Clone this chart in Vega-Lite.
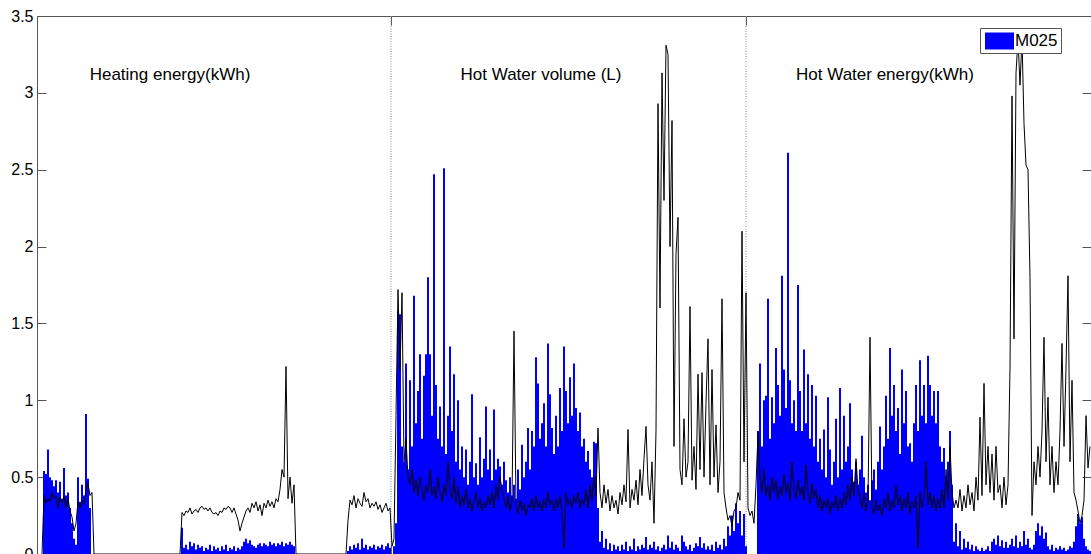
{
"$schema": "https://vega.github.io/schema/vega-lite/v6.json",
"width": 1054, "height": 538,
"autosize": {"type": "none"},
"padding": {"left": 37, "top": 16, "right": 0, "bottom": 0},
"background": "white",
"config": {
  "view": {"stroke": "#555", "strokeWidth": 1},
  "font": "Liberation Sans",
  "axis": {"grid": false, "domain": false, "tickColor": "#555", "tickSize": -9, "labelFont": "Liberation Sans", "labelFontSize": 16, "labelColor": "#000", "title": null}
},
"datasets": {"m": [
{"t":42,"b":0,"k":0},{"t":44,"b":0.54,"k":0.38},{"t":46,"b":0.52,"k":0.33},{"t":48,"b":0.68,"k":0.36},{"t":50,"b":0.50,"k":0.34},{"t":52,"b":0.48,"k":0.40},{"t":54,"b":0.44,"k":0.36},{"t":56,"b":0.48,"k":0.38},{"t":58,"b":0.40,"k":0.30},{"t":60,"b":0.47,"k":0.37},{"t":62,"b":0.36,"k":0.33},{"t":64,"b":0.56,"k":0.38},{"t":66,"b":0.38,"k":0.30},{"t":68,"b":0.40,"k":0.36},{"t":70,"b":0.30,"k":0.28},{"t":72,"b":0.20,"k":0.24},{"t":74,"b":0.10,"k":0.15},{"t":76,"b":0.06,"k":0.20},{"t":78,"b":0.50,"k":0.34},{"t":80,"b":0.34,"k":0.30},{"t":82,"b":0.45,"k":0.35},{"t":84,"b":0.38,"k":0.32},{"t":86,"b":0.91,"k":0.42},{"t":88,"b":0.49,"k":0.46},{"t":90,"b":0.30,"k":0.38},{"t":92,"b":0,"k":0.40},{"t":94,"b":0,"k":0},
{"t":180,"b":0,"k":0},{"t":182,"b":0.17,"k":0.27},{"t":184,"b":0.04,"k":0.25},{"t":186,"b":0.06,"k":0.28},{"t":188,"b":0.03,"k":0.27},{"t":190,"b":0.08,"k":0.30},{"t":192,"b":0.05,"k":0.26},{"t":194,"b":0.07,"k":0.28},{"t":196,"b":0.03,"k":0.29},{"t":198,"b":0.06,"k":0.27},{"t":200,"b":0.04,"k":0.30},{"t":202,"b":0.05,"k":0.31},{"t":204,"b":0.02,"k":0.29},{"t":206,"b":0.04,"k":0.30},{"t":208,"b":0.03,"k":0.28},{"t":210,"b":0.06,"k":0.30},{"t":212,"b":0.02,"k":0.27},{"t":214,"b":0.05,"k":0.26},{"t":216,"b":0.03,"k":0.27},{"t":218,"b":0.04,"k":0.25},{"t":220,"b":0.02,"k":0.28},{"t":222,"b":0.05,"k":0.27},{"t":224,"b":0.03,"k":0.30},{"t":226,"b":0.06,"k":0.29},{"t":228,"b":0.02,"k":0.31},{"t":230,"b":0.04,"k":0.30},{"t":232,"b":0.03,"k":0.27},{"t":234,"b":0.05,"k":0.30},{"t":236,"b":0.02,"k":0.26},{"t":238,"b":0.04,"k":0.22},{"t":240,"b":0.03,"k":0.15},{"t":242,"b":0.05,"k":0.20},{"t":244,"b":0.08,"k":0.24},{"t":246,"b":0.10,"k":0.28},{"t":248,"b":0.07,"k":0.30},{"t":250,"b":0.09,"k":0.27},{"t":252,"b":0.06,"k":0.33},{"t":254,"b":0.05,"k":0.30},{"t":256,"b":0.04,"k":0.34},{"t":258,"b":0.06,"k":0.28},{"t":260,"b":0.07,"k":0.32},{"t":262,"b":0.05,"k":0.25},{"t":264,"b":0.07,"k":0.33},{"t":266,"b":0.06,"k":0.30},{"t":268,"b":0.05,"k":0.35},{"t":270,"b":0.08,"k":0.31},{"t":272,"b":0.06,"k":0.34},{"t":274,"b":0.07,"k":0.30},{"t":276,"b":0.05,"k":0.36},{"t":278,"b":0.07,"k":0.34},{"t":280,"b":0.06,"k":0.42},{"t":282,"b":0.08,"k":0.55},{"t":284,"b":0.05,"k":0.50},{"t":286,"b":0.07,"k":1.22},{"t":288,"b":0.06,"k":0.36},{"t":290,"b":0.08,"k":0.50},{"t":292,"b":0.06,"k":0.33},{"t":294,"b":0.05,"k":0.45},{"t":296,"b":0,"k":0},
{"t":346,"b":0,"k":0},{"t":348,"b":0.02,"k":0.22},{"t":350,"b":0.05,"k":0.35},{"t":352,"b":0.03,"k":0.32},{"t":354,"b":0.06,"k":0.38},{"t":356,"b":0.04,"k":0.30},{"t":358,"b":0.07,"k":0.36},{"t":360,"b":0.03,"k":0.33},{"t":362,"b":0.10,"k":0.31},{"t":364,"b":0.04,"k":0.40},{"t":366,"b":0.06,"k":0.34},{"t":368,"b":0.03,"k":0.36},{"t":370,"b":0.05,"k":0.30},{"t":372,"b":0.04,"k":0.33},{"t":374,"b":0.06,"k":0.31},{"t":376,"b":0.03,"k":0.34},{"t":378,"b":0.05,"k":0.29},{"t":380,"b":0.04,"k":0.32},{"t":382,"b":0.06,"k":0.27},{"t":384,"b":0.03,"k":0.30},{"t":386,"b":0.05,"k":0.33},{"t":388,"b":0.07,"k":0.28},{"t":390,"b":0.04,"k":0.30},{"t":392,"b":0,"k":0.05},
{"t":394,"b":0.05,"k":0.10},{"t":396,"b":0.20,"k":0.90},{"t":398,"b":1.58,"k":1.72},{"t":400,"b":1.56,"k":1.20},{"t":402,"b":0.70,"k":1.70},{"t":404,"b":0.60,"k":0.60},{"t":406,"b":1.24,"k":0.75},{"t":408,"b":0.55,"k":0.50},{"t":410,"b":1.13,"k":0.45},{"t":412,"b":0.70,"k":0.55},{"t":414,"b":1.68,"k":0.40},{"t":416,"b":0.85,"k":0.48},{"t":418,"b":1.06,"k":0.38},{"t":420,"b":1.30,"k":0.50},{"t":422,"b":0.75,"k":0.42},{"t":424,"b":1.16,"k":0.35},{"t":426,"b":1.30,"k":0.45},{"t":428,"b":1.80,"k":0.40},{"t":430,"b":1.30,"k":0.55},{"t":432,"b":0.90,"k":0.38},{"t":434,"b":2.47,"k":0.44},{"t":436,"b":1.10,"k":0.36},{"t":438,"b":0.75,"k":0.50},{"t":440,"b":0.96,"k":0.40},{"t":442,"b":0.70,"k":0.34},{"t":444,"b":2.51,"k":0.45},{"t":446,"b":0.65,"k":0.38},{"t":448,"b":0.90,"k":0.60},{"t":450,"b":1.35,"k":0.42},{"t":452,"b":0.80,"k":0.36},{"t":454,"b":1.17,"k":0.50},{"t":456,"b":0.60,"k":0.33},{"t":458,"b":1.00,"k":0.44},{"t":460,"b":0.55,"k":0.30},{"t":462,"b":0.70,"k":0.38},{"t":464,"b":0.50,"k":0.32},{"t":466,"b":0.68,"k":0.42},{"t":468,"b":0.45,"k":0.30},{"t":470,"b":0.60,"k":0.36},{"t":472,"b":1.04,"k":0.28},{"t":474,"b":0.50,"k":0.34},{"t":476,"b":0.59,"k":0.40},{"t":478,"b":0.45,"k":0.30},{"t":480,"b":0.76,"k":0.36},{"t":482,"b":0.50,"k":0.28},{"t":484,"b":0.62,"k":0.34},{"t":486,"b":0.96,"k":0.30},{"t":488,"b":0.55,"k":0.38},{"t":490,"b":0.68,"k":0.32},{"t":492,"b":0.48,"k":0.40},{"t":494,"b":0.94,"k":0.30},{"t":496,"b":0.55,"k":0.45},{"t":498,"b":0.62,"k":0.35},{"t":500,"b":0.57,"k":0.50},{"t":502,"b":0.45,"k":0.42},{"t":504,"b":0.60,"k":0.36},{"t":506,"b":0.48,"k":0.30},{"t":508,"b":0.40,"k":0.38},{"t":510,"b":0.50,"k":0.28},{"t":512,"b":0.38,"k":0.34},{"t":514,"b":0.45,"k":1.45},{"t":516,"b":0.36,"k":0.32},{"t":518,"b":0.55,"k":0.26},{"t":520,"b":0.42,"k":0.35},{"t":522,"b":0.71,"k":0.28},{"t":524,"b":0.50,"k":0.33},{"t":526,"b":0.60,"k":0.25},{"t":528,"b":0.82,"k":0.32},{"t":530,"b":0.55,"k":0.30},{"t":532,"b":0.80,"k":0.36},{"t":534,"b":0.70,"k":0.28},{"t":536,"b":1.28,"k":0.38},{"t":538,"b":1.11,"k":0.30},{"t":540,"b":0.75,"k":0.34},{"t":542,"b":0.85,"k":0.28},{"t":544,"b":0.98,"k":0.36},{"t":546,"b":0.70,"k":0.30},{"t":548,"b":1.37,"k":0.40},{"t":550,"b":1.04,"k":0.32},{"t":552,"b":0.82,"k":0.35},{"t":554,"b":0.65,"k":0.28},{"t":556,"b":0.90,"k":0.36},{"t":558,"b":0.70,"k":0.30},{"t":560,"b":1.08,"k":0.38},{"t":562,"b":0.80,"k":0.28},{"t":564,"b":1.35,"k":0.04},{"t":566,"b":1.06,"k":0.40},{"t":568,"b":0.85,"k":0.32},{"t":570,"b":1.15,"k":0.36},{"t":572,"b":0.90,"k":0.30},{"t":574,"b":1.24,"k":0.38},{"t":576,"b":0.95,"k":0.33},{"t":578,"b":0.80,"k":0.40},{"t":580,"b":0.92,"k":0.30},{"t":582,"b":0.70,"k":0.36},{"t":584,"b":0.75,"k":0.32},{"t":586,"b":0.60,"k":0.42},{"t":588,"b":0.67,"k":0.30},{"t":590,"b":0.55,"k":0.45},{"t":592,"b":0.50,"k":0.35},{"t":594,"b":0.73,"k":0.50},{"t":596,"b":0.72,"k":0.38},{"t":598,"b":0.30,"k":0.82},
{"t":600,"b":0.08,"k":0.40},{"t":602,"b":0.15,"k":0.30},{"t":604,"b":0.04,"k":0.45},{"t":606,"b":0.10,"k":0.33},{"t":608,"b":0.03,"k":0.42},{"t":610,"b":0.07,"k":0.28},{"t":612,"b":0.02,"k":0.38},{"t":614,"b":0.06,"k":0.30},{"t":616,"b":0.03,"k":0.35},{"t":618,"b":0.05,"k":0.26},{"t":620,"b":0.02,"k":0.40},{"t":622,"b":0.06,"k":0.32},{"t":624,"b":0.03,"k":0.45},{"t":626,"b":0.08,"k":0.34},{"t":628,"b":0.02,"k":0.81},{"t":630,"b":0.05,"k":0.30},{"t":632,"b":0.03,"k":0.42},{"t":634,"b":0.10,"k":0.35},{"t":636,"b":0.02,"k":0.48},{"t":638,"b":0.05,"k":0.32},{"t":640,"b":0.03,"k":0.55},{"t":642,"b":0.06,"k":0.38},{"t":644,"b":0.04,"k":0.62},{"t":646,"b":0.11,"k":0.83},{"t":648,"b":0.03,"k":0.45},{"t":650,"b":0.06,"k":0.35},{"t":652,"b":0.04,"k":0.60},{"t":654,"b":0.08,"k":0.20},{"t":656,"b":0.03,"k":0.80},{"t":658,"b":0.05,"k":2.93},{"t":660,"b":0.02,"k":1.60},{"t":662,"b":0.04,"k":3.13},{"t":664,"b":0.06,"k":2.30},{"t":666,"b":0.03,"k":3.31},{"t":668,"b":0.12,"k":3.25},{"t":670,"b":0.04,"k":2.00},{"t":672,"b":0.08,"k":2.82},{"t":674,"b":0.03,"k":0.70},{"t":676,"b":0.06,"k":1.95},{"t":678,"b":0.04,"k":2.19},{"t":680,"b":0.02,"k":0.55},{"t":682,"b":0.12,"k":0.45},{"t":684,"b":0.08,"k":0.88},{"t":686,"b":0.05,"k":0.50},{"t":688,"b":0.03,"k":0.60},{"t":690,"b":0.06,"k":1.61},{"t":692,"b":0.02,"k":0.48},{"t":694,"b":0.04,"k":0.70},{"t":696,"b":0.07,"k":0.42},{"t":698,"b":0.05,"k":1.17},{"t":700,"b":0.11,"k":0.55},{"t":702,"b":0.04,"k":1.18},{"t":704,"b":0.07,"k":0.50},{"t":706,"b":0.03,"k":0.98},{"t":708,"b":0.05,"k":1.40},{"t":710,"b":0.03,"k":0.45},{"t":712,"b":0.06,"k":1.20},{"t":714,"b":0.02,"k":0.50},{"t":716,"b":0.08,"k":0.84},{"t":718,"b":0.04,"k":0.40},{"t":720,"b":0.06,"k":0.60},{"t":722,"b":0.03,"k":1.66},{"t":724,"b":0.10,"k":0.40},{"t":726,"b":0.05,"k":0.30},{"t":728,"b":0.18,"k":0.22},{"t":730,"b":0.12,"k":0.25},{"t":732,"b":0.25,"k":0.18},{"t":734,"b":0.15,"k":0.28},{"t":736,"b":0.33,"k":0.30},{"t":738,"b":0.20,"k":0.40},{"t":740,"b":0.28,"k":0.35},{"t":742,"b":0.12,"k":2.10},{"t":744,"b":0.26,"k":0.60},{"t":746,"b":0.05,"k":1.70},
{"t":748,"b":0,"k":0.30},{"t":750,"b":0,"k":0.25},{"t":752,"b":0,"k":0.28},{"t":754,"b":0,"k":0.20},{"t":756,"b":0,"k":0.45},{"t":758,"b":0.80,"k":0.79},{"t":760,"b":1.24,"k":0.50},{"t":762,"b":0.70,"k":0.40},{"t":764,"b":1.00,"k":0.55},{"t":766,"b":1.03,"k":0.38},{"t":768,"b":1.66,"k":0.45},{"t":770,"b":0.75,"k":0.35},{"t":772,"b":1.02,"k":0.50},{"t":774,"b":0.85,"k":0.40},{"t":776,"b":1.34,"k":0.48},{"t":778,"b":1.10,"k":0.36},{"t":780,"b":0.90,"k":0.44},{"t":782,"b":1.81,"k":0.38},{"t":784,"b":1.20,"k":0.52},{"t":786,"b":0.95,"k":0.40},{"t":788,"b":2.61,"k":0.46},{"t":790,"b":1.13,"k":0.35},{"t":792,"b":0.85,"k":0.60},{"t":794,"b":1.00,"k":0.42},{"t":796,"b":0.80,"k":0.36},{"t":798,"b":1.75,"k":0.48},{"t":800,"b":1.06,"k":0.38},{"t":802,"b":0.80,"k":0.44},{"t":804,"b":1.33,"k":0.35},{"t":806,"b":0.85,"k":0.58},{"t":808,"b":1.17,"k":0.40},{"t":810,"b":0.75,"k":0.33},{"t":812,"b":1.10,"k":0.46},{"t":814,"b":0.70,"k":0.36},{"t":816,"b":1.03,"k":0.42},{"t":818,"b":0.60,"k":0.30},{"t":820,"b":0.75,"k":0.38},{"t":822,"b":0.55,"k":0.28},{"t":824,"b":0.81,"k":0.35},{"t":826,"b":0.50,"k":0.30},{"t":828,"b":1.02,"k":0.36},{"t":830,"b":0.68,"k":0.26},{"t":832,"b":0.45,"k":0.34},{"t":834,"b":0.60,"k":0.30},{"t":836,"b":0.88,"k":0.38},{"t":838,"b":0.50,"k":0.28},{"t":840,"b":1.08,"k":0.36},{"t":842,"b":0.55,"k":0.30},{"t":844,"b":0.90,"k":0.40},{"t":846,"b":0.60,"k":0.32},{"t":848,"b":0.70,"k":0.45},{"t":850,"b":0.98,"k":0.35},{"t":852,"b":0.55,"k":0.50},{"t":854,"b":0.47,"k":0.38},{"t":856,"b":0.60,"k":0.62},{"t":858,"b":0.45,"k":0.42},{"t":860,"b":0.55,"k":0.36},{"t":862,"b":0.77,"k":0.30},{"t":864,"b":0.50,"k":0.40},{"t":866,"b":0.40,"k":0.28},{"t":868,"b":0.45,"k":0.34},{"t":870,"b":0.35,"k":1.41},{"t":872,"b":0.48,"k":0.30},{"t":874,"b":0.55,"k":0.26},{"t":876,"b":0.42,"k":0.35},{"t":878,"b":0.60,"k":0.28},{"t":880,"b":0.83,"k":0.32},{"t":882,"b":0.55,"k":0.25},{"t":884,"b":0.70,"k":0.36},{"t":886,"b":1.03,"k":0.30},{"t":888,"b":0.75,"k":0.40},{"t":890,"b":1.34,"k":0.28},{"t":892,"b":0.90,"k":0.35},{"t":894,"b":1.10,"k":0.30},{"t":896,"b":0.80,"k":0.45},{"t":898,"b":0.95,"k":0.32},{"t":900,"b":0.65,"k":0.38},{"t":902,"b":1.20,"k":0.28},{"t":904,"b":0.85,"k":0.36},{"t":906,"b":1.06,"k":0.30},{"t":908,"b":0.70,"k":0.40},{"t":910,"b":0.72,"k":0.26},{"t":912,"b":0.60,"k":0.34},{"t":914,"b":0.85,"k":0.30},{"t":916,"b":1.10,"k":0.38},{"t":918,"b":0.80,"k":0.04},{"t":920,"b":1.26,"k":0.40},{"t":922,"b":0.90,"k":0.30},{"t":924,"b":1.10,"k":0.36},{"t":926,"b":0.85,"k":0.60},{"t":928,"b":1.29,"k":0.32},{"t":930,"b":1.10,"k":0.40},{"t":932,"b":0.90,"k":0.30},{"t":934,"b":1.06,"k":0.38},{"t":936,"b":0.85,"k":0.28},{"t":938,"b":1.06,"k":0.36},{"t":940,"b":0.70,"k":0.30},{"t":942,"b":0.60,"k":0.42},{"t":944,"b":0.69,"k":0.30},{"t":946,"b":0.50,"k":0.55},{"t":948,"b":0.60,"k":0.35},{"t":950,"b":0.80,"k":0.70},{"t":952,"b":0.45,"k":0.40},{"t":954,"b":0.08,"k":0.30},
{"t":956,"b":0.20,"k":0.35},{"t":958,"b":0.05,"k":0.30},{"t":960,"b":0.15,"k":0.42},{"t":962,"b":0.03,"k":0.28},{"t":964,"b":0.10,"k":0.38},{"t":966,"b":0.04,"k":0.30},{"t":968,"b":0.08,"k":0.45},{"t":970,"b":0.03,"k":0.32},{"t":972,"b":0.06,"k":0.40},{"t":974,"b":0.02,"k":0.28},{"t":976,"b":0.05,"k":0.50},{"t":978,"b":0.03,"k":0.35},{"t":980,"b":0.02,"k":0.89},{"t":982,"b":0.04,"k":0.38},{"t":984,"b":0.02,"k":1.11},{"t":986,"b":0.03,"k":0.45},{"t":988,"b":0.05,"k":0.70},{"t":990,"b":0.02,"k":0.40},{"t":992,"b":0.08,"k":0.65},{"t":994,"b":0.10,"k":0.35},{"t":996,"b":0.06,"k":0.70},{"t":998,"b":0.12,"k":0.40},{"t":1000,"b":0.05,"k":0.45},{"t":1002,"b":0.09,"k":0.30},{"t":1004,"b":0.04,"k":0.50},{"t":1006,"b":0.08,"k":0.32},{"t":1008,"b":0.04,"k":0.45},{"t":1010,"b":0.06,"k":1.21},{"t":1012,"b":0.10,"k":2.98},{"t":1014,"b":0.05,"k":1.40},{"t":1016,"b":0.12,"k":3.13},{"t":1018,"b":0.04,"k":3.35},{"t":1020,"b":0.08,"k":3.05},{"t":1022,"b":0.05,"k":3.35},{"t":1024,"b":0.15,"k":2.80},{"t":1026,"b":0.06,"k":2.53},{"t":1028,"b":0.10,"k":2.50},{"t":1030,"b":0.04,"k":1.80},{"t":1032,"b":0.03,"k":0.25},{"t":1034,"b":0.06,"k":0.60},{"t":1036,"b":0.15,"k":0.45},{"t":1038,"b":0.20,"k":0.70},{"t":1040,"b":0.12,"k":0.50},{"t":1042,"b":0.18,"k":0.80},{"t":1044,"b":0.10,"k":1.41},{"t":1046,"b":0.14,"k":0.60},{"t":1048,"b":0.05,"k":1.02},{"t":1050,"b":0.03,"k":0.45},{"t":1052,"b":0.06,"k":0.70},{"t":1054,"b":0.02,"k":0.40},{"t":1056,"b":0.04,"k":0.60},{"t":1058,"b":0.03,"k":0.45},{"t":1060,"b":0.05,"k":0.80},{"t":1062,"b":0.03,"k":1.37},{"t":1064,"b":0.04,"k":0.70},{"t":1066,"b":0.02,"k":1.21},{"t":1068,"b":0.03,"k":1.81},{"t":1070,"b":0.05,"k":0.60},{"t":1072,"b":0.04,"k":1.13},{"t":1074,"b":0.08,"k":0.40},{"t":1076,"b":0.18,"k":0.35},{"t":1078,"b":0.26,"k":0.28},{"t":1080,"b":0.20,"k":0.20},{"t":1082,"b":0.24,"k":0.25},{"t":1084,"b":0.10,"k":0.35},{"t":1086,"b":0.05,"k":0.90},{"t":1088,"b":0.03,"k":0.56},{"t":1090,"b":0.02,"k":0.70}
]},
"layer": [
  {"data": {"values": [{}]}, "mark": {"type": "rule", "color": "#888", "strokeDash": [1, 1.5], "strokeWidth": 1},
   "encoding": {"x": {"datum": 391, "type": "quantitative", "scale": {"domain": [37, 1091], "nice": false}, "axis": null}}},
  {"data": {"values": [{}]}, "mark": {"type": "rule", "color": "#888", "strokeDash": [1, 1.5], "strokeWidth": 1},
   "encoding": {"x": {"datum": 746, "type": "quantitative", "axis": null}}},
  {"data": {"name": "m"}, "mark": {"type": "rule", "strokeWidth": 2, "strokeCap": "butt"},
   "encoding": {
     "x": {"field": "t", "type": "quantitative", "scale": {"domain": [37, 1091], "nice": false},
           "axis": {"orient": "bottom", "values": [391, 746], "labels": false}},
     "y": {"field": "b", "type": "quantitative", "scale": {"domain": [0, 3.5], "nice": false},
           "axis": {"orient": "left", "values": [0, 0.5, 1, 1.5, 2, 2.5, 3, 3.5], "format": "~g", "labelPadding": 13}},
     "y2": {"datum": 0},
     "color": {"datum": "M025", "scale": {"range": ["#0000ff"]},
       "legend": {"title": null, "orient": "none", "legendX": 943, "legendY": 12, "padding": 2.5,
         "strokeColor": "#555", "fillColor": "#fff", "cornerRadius": 0,
         "symbolType": "M-1.38,-0.81H1.38V0.81H-1.38Z", "symbolSize": 441, "symbolOffset": 6.5,
         "labelOffset": 5, "labelFontSize": 17, "labelFont": "Liberation Sans", "labelColor": "#000",
         "encode": {"symbols": {"update": {"fill": {"value": "#0000ff"}, "stroke": {"value": "transparent"}, "strokeWidth": {"value": 0}, "opacity": {"value": 1}}}}}}
   }},
  {"data": {"name": "m"}, "mark": {"type": "line", "color": "#000", "strokeWidth": 1},
   "encoding": {
     "x": {"field": "t", "type": "quantitative", "axis": {"orient": "top", "values": [391, 746], "labels": false}},
     "y": {"field": "k", "type": "quantitative", "axis": {"orient": "right", "values": [0, 0.5, 1, 1.5, 2, 2.5, 3, 3.5], "labels": false}}
   }},
  {"data": {"values": [{}]}, "mark": {"type": "text", "text": "Heating energy(kWh)", "font": "Liberation Sans", "fontSize": 17, "align": "center", "baseline": "alphabetic", "color": "#000"},
   "encoding": {"x": {"datum": 170, "type": "quantitative", "axis": null}, "y": {"datum": 3.083, "type": "quantitative", "axis": null}}},
  {"data": {"values": [{}]}, "mark": {"type": "text", "text": "Hot Water volume (L)", "font": "Liberation Sans", "fontSize": 17, "align": "center", "baseline": "alphabetic", "color": "#000"},
   "encoding": {"x": {"datum": 541, "type": "quantitative", "axis": null}, "y": {"datum": 3.083, "type": "quantitative", "axis": null}}},
  {"data": {"values": [{}]}, "mark": {"type": "text", "text": "Hot Water energy(kWh)", "font": "Liberation Sans", "fontSize": 17, "align": "center", "baseline": "alphabetic", "color": "#000"},
   "encoding": {"x": {"datum": 885, "type": "quantitative", "axis": null}, "y": {"datum": 3.083, "type": "quantitative", "axis": null}}}
],
"resolve": {"axis": {"x": "independent", "y": "independent"}}
}
